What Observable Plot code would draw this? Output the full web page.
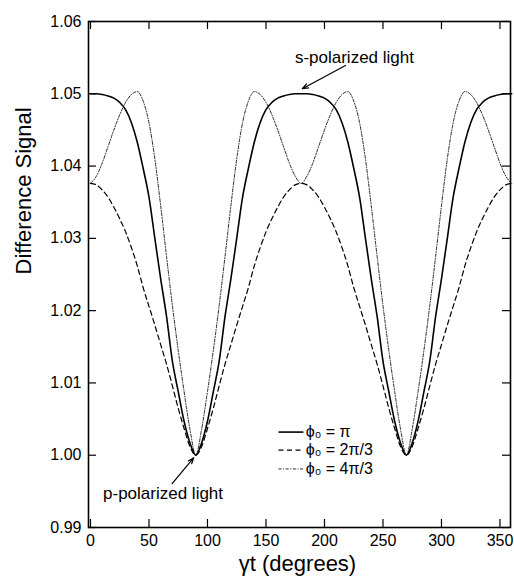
<!DOCTYPE html>
<html>
<head>
<meta charset="utf-8">
<script src="https://cdn.jsdelivr.net/npm/d3@7"></script>
<script src="https://cdn.jsdelivr.net/npm/@observablehq/plot@0.6"></script>
<style>
  html, body { margin: 0; padding: 0; background: #fff; }
  #chart { width: 514px; height: 583px; }
</style>
</head>
<body>
<div id="chart"></div>
<script>
// ---- data ----
const angles = d3.range(0, 361, 5); // sampling positions, degrees

const phiPi = [
  1.0500,1.0500,1.0499,1.0497,1.0494,1.0488,1.0478,1.0460,1.0433,1.0397,1.0357,1.0300,1.0244,1.0192,1.0130,1.0088,1.0047,1.0017,1.0000,
  1.0017,1.0047,1.0088,1.0130,1.0192,1.0244,1.0300,1.0357,1.0397,1.0433,1.0460,1.0478,1.0488,1.0494,1.0497,1.0499,1.0500,1.0500,
  1.0500,1.0499,1.0497,1.0494,1.0488,1.0478,1.0460,1.0433,1.0397,1.0357,1.0300,1.0244,1.0192,1.0130,1.0088,1.0047,1.0017,1.0000,
  1.0017,1.0047,1.0088,1.0130,1.0192,1.0244,1.0300,1.0357,1.0397,1.0433,1.0460,1.0478,1.0488,1.0494,1.0497,1.0499,1.0500,1.0500
];
const phi2Pi3 = [
  1.0376,1.0374,1.0367,1.0357,1.0343,1.0327,1.0309,1.0287,1.0262,1.0232,1.0206,1.0180,1.0153,1.0126,1.0096,1.0065,1.0037,1.0012,1.0000,
  1.0012,1.0037,1.0065,1.0096,1.0126,1.0153,1.0180,1.0206,1.0232,1.0262,1.0287,1.0309,1.0327,1.0343,1.0357,1.0367,1.0374,1.0376,
  1.0374,1.0367,1.0357,1.0343,1.0327,1.0309,1.0287,1.0262,1.0232,1.0206,1.0180,1.0153,1.0126,1.0096,1.0065,1.0037,1.0012,1.0000,
  1.0012,1.0037,1.0065,1.0096,1.0126,1.0153,1.0180,1.0206,1.0232,1.0262,1.0287,1.0309,1.0327,1.0343,1.0357,1.0367,1.0374,1.0376
];
const phi4Pi3 = [
  1.0376,1.0386,1.0404,1.0427,1.0450,1.0471,1.0488,1.0499,1.0503,1.0490,1.0460,1.0410,1.0345,1.0275,1.0207,1.0145,1.0088,1.0036,1.0000,
  1.0036,1.0088,1.0145,1.0207,1.0275,1.0345,1.0410,1.0460,1.0490,1.0503,1.0499,1.0488,1.0471,1.0450,1.0427,1.0404,1.0386,1.0376,
  1.0386,1.0404,1.0427,1.0450,1.0471,1.0488,1.0499,1.0503,1.0490,1.0460,1.0410,1.0345,1.0275,1.0207,1.0145,1.0088,1.0036,1.0000,
  1.0036,1.0088,1.0145,1.0207,1.0275,1.0345,1.0410,1.0460,1.0490,1.0503,1.0499,1.0488,1.0471,1.0450,1.0427,1.0404,1.0386,1.0376
];

const seriesNames = ["ϕ₀ = π", "ϕ₀ = 2π/3", "ϕ₀ = 4π/3"];
const seriesValues = [phiPi, phi2Pi3, phi4Pi3];

const xTicks = [0, 50, 100, 150, 200, 250, 300, 350];
const yTicks = [0.99, 1.00, 1.01, 1.02, 1.03, 1.04, 1.05, 1.06];

const xTitle = "γt (degrees)";
const yTitle = "Difference Signal";

// annotations (data coordinates)
const annoLabels = ["s-polarized light", "p-polarized light"];
const annoLabelX = [225.6, 62];
const annoLabelY = [1.0550, 0.99471];
const annoArrowFromX = [218, 69.8];
const annoArrowFromY = [1.0539, 0.99606];
const annoArrowToX = [181, 88.3];
const annoArrowToY = [1.0507, 0.99966];

// legend placement (data coordinates)
const legendRowY = [1.0032, 1.0007, 0.9981];
const legendSampleX = [160.7, 182];
const legendTextX = 184;

// ---- styles / layout ----
const W = 514, H = 583, ML = 88, MR = 4, MT = 21, MB = 56, TICK = 8;
const frameW = W - ML - MR, frameH = H - MT - MB;
const lineStyles = [
  {stroke: "#000", strokeWidth: 1.6},
  {stroke: "#000", strokeWidth: 1.2, strokeDasharray: "5,3.5"},
  {stroke: "#111", strokeWidth: 0.9, strokeDasharray: "3,1.6,1,1.6"}
];

// ---- build tables ----
const rows = seriesNames.flatMap((name, si) =>
  angles.map((a, i) => ({series: name, x: a, y: seriesValues[si][i]})));

const annoTextData = annoLabels.map((t, i) => ({text: t, x: annoLabelX[i], y: annoLabelY[i]}));
const annoArrowData = annoLabels.map((t, i) => ({
  x1: annoArrowFromX[i], y1: annoArrowFromY[i], x2: annoArrowToX[i], y2: annoArrowToY[i]}));
const legendData = seriesNames.map((n, i) => ({name: n, y: legendRowY[i]}));

const font = "'Liberation Sans', Arial, Helvetica, sans-serif";

const marks = [];
seriesNames.forEach((name, si) => {
  marks.push(Plot.line(rows.filter(d => d.series === name), {
    x: "x", y: "y", curve: "monotone-x", ...lineStyles[si]
  }));
});
// legend
seriesNames.forEach((name, si) => {
  marks.push(Plot.link([legendData[si]], {
    x1: () => legendSampleX[0], x2: () => legendSampleX[1], y1: "y", y2: "y", ...lineStyles[si]
  }));
});
marks.push(Plot.text(legendData, {
  x: () => legendTextX, y: "y", text: "name", textAnchor: "start", fontSize: 16, fill: "#000"
}));
// annotations
marks.push(Plot.text(annoTextData, {x: "x", y: "y", text: "text", fontSize: 17, fill: "#000"}));
marks.push(Plot.arrow(annoArrowData, {
  x1: "x1", y1: "y1", x2: "x2", y2: "y2", stroke: "#000", strokeWidth: 1.2, headLength: 8, headAngle: 40
}));
// axes: labels
marks.push(Plot.axisX(xTicks, {anchor: "bottom", tickSize: 0, tickPadding: 7, fontSize: 16, label: null, tickFormat: d => String(d)}));
marks.push(Plot.axisY(yTicks, {anchor: "left", tickSize: 0, tickPadding: 7, fontSize: 16, label: null, tickFormat: d3.format(".2f")}));
// inward ticks on all four sides
marks.push(Plot.tickX(xTicks, {x: d => d, insetTop: frameH - TICK, stroke: "#000", strokeWidth: 1.2}));
marks.push(Plot.tickX(xTicks, {x: d => d, insetBottom: frameH - TICK, stroke: "#000", strokeWidth: 1.2}));
marks.push(Plot.tickY(yTicks, {y: d => d, insetRight: frameW - TICK, stroke: "#000", strokeWidth: 1.2}));
marks.push(Plot.tickY(yTicks, {y: d => d, insetLeft: frameW - TICK, stroke: "#000", strokeWidth: 1.2}));
// titles
marks.push(Plot.text([yTitle], {text: d => d, frameAnchor: "left", dx: -65, rotate: -90, fontSize: 22, fill: "#000"}));
marks.push(Plot.text([xTitle], {text: d => d, frameAnchor: "bottom", dy: 43, dx: -2, fontSize: 22, fill: "#000"}));
marks.push(Plot.frame({stroke: "#000", strokeWidth: 1.6}));

const chart = Plot.plot({
  width: W,
  height: H,
  marginLeft: ML,
  marginRight: MR,
  marginTop: MT,
  marginBottom: MB,
  x: {domain: [-1.7, 359], axis: null},
  y: {domain: [0.99, 1.06], axis: null},
  style: {fontFamily: font, fontSize: "16px", color: "#000", background: "#fff"},
  marks
});
document.getElementById("chart").appendChild(chart);
</script>
</body>
</html>
